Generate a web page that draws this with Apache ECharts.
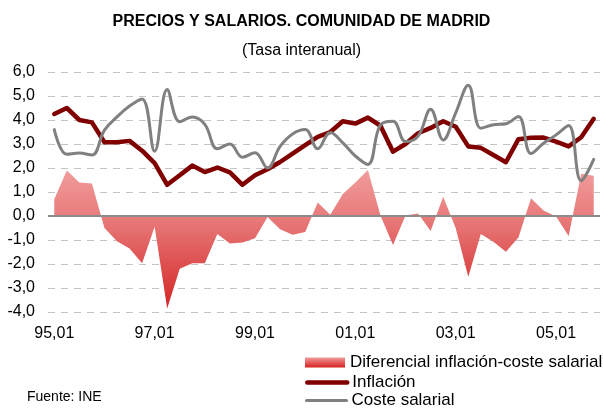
<!DOCTYPE html>
<html>
<head>
<meta charset="utf-8">
<script src="https://cdn.jsdelivr.net/npm/echarts@6/dist/echarts.min.js"></script>
<style>
html,body{margin:0;padding:0;background:#fff;}
#chart{width:603px;height:408px;}
</style>
</head>
<body>
<div id="chart"></div>
<script>
const categories = [
  "95,01","95,02","95,03","95,04","96,01","96,02","96,03","96,04",
  "97,01","97,02","97,03","97,04","98,01","98,02","98,03","98,04",
  "99,01","99,02","99,03","99,04","00,01","00,02","00,03","00,04",
  "01,01","01,02","01,03","01,04","02,01","02,02","02,03","02,04",
  "03,01","03,02","03,03","03,04","04,01","04,02","04,03","04,04",
  "05,01","05,02","05,03","05,04"
];
const diferencial = [
  0.7, 1.9, 1.4, 1.35, -0.5, -1.05, -1.35, -1.97,
  -0.45, -3.85, -2.2, -1.97, -1.97, -0.75, -1.15, -1.1,
  -0.93, -0.04, -0.55, -0.78, -0.67, 0.56, 0.05, 0.92,
  1.4, 1.92, 0.02, -1.21, 0.02, 0.1, -0.63, 0.8,
  -0.51, -2.53, -0.75, -1.07, -1.49, -0.9, 0.74, 0.23,
  -0.02, -0.83, 1.76, 1.68
];
const inflacion = [
  4.25, 4.5, 4.0, 3.9, 3.07, 3.07, 3.13, 2.72,
  2.2, 1.3, 1.7, 2.1, 1.83, 2.02, 1.82, 1.3,
  1.7, 1.95, 2.25, 2.6, 2.95, 3.3, 3.5, 3.95,
  3.85, 4.1, 3.76, 2.68, 3.0, 3.45, 3.67, 3.95,
  3.72, 2.9, 2.84, 2.54, 2.24, 3.2, 3.26, 3.27,
  3.1, 2.9, 3.28, 4.05
];
const coste = [
  3.6, 2.57, 2.62, 2.54, 3.58, 4.13, 4.58, 4.88,
  2.7, 5.27, 3.93, 4.12, 3.82, 2.8, 3.0, 2.45,
  2.64, 2.0, 2.9, 3.42, 3.6, 2.8, 3.48, 3.05,
  2.5, 2.15, 3.8, 3.95, 3.1, 3.33, 4.45, 3.17,
  4.3, 5.45, 3.66, 3.8, 3.84, 4.15, 2.6, 3.03,
  3.38, 3.77, 1.47, 2.36
];
const seriesNames = ["Diferencial inflación-coste salarial", "Inflación", "Coste salarial"];

const FONT = "'Liberation Sans', Arial, sans-serif";
const areaGradient = {
  type: 'linear', x: 0, y: 0, x2: 0, y2: 1,
  colorStops: [{offset: 0, color: '#f19c9c'}, {offset: 0.35, color: '#e87a7a'}, {offset: 1, color: '#d42626'}]
};
const legendGradient = {
  type: 'linear', x: 0, y: 0, x2: 0, y2: 1,
  colorStops: [{offset: 0, color: '#f09a9a'}, {offset: 1, color: '#d82020'}]
};
const legendBase = {
  orient: 'vertical', left: 305, padding: 0,
  itemWidth: 40, itemHeight: 10, itemGap: 0,
  textStyle: {fontFamily: FONT, fontSize: 17, color: '#000'}
};

const chart = echarts.init(document.getElementById('chart'), null, {renderer: 'canvas'});
chart.setOption({
  animation: false,
  backgroundColor: '#ffffff',
  textStyle: {fontFamily: FONT},
  title: [
    {text: 'PRECIOS Y SALARIOS. COMUNIDAD DE MADRID', left: 'center', top: 9,
     textStyle: {fontFamily: FONT, fontSize: 16, fontWeight: 'bold', color: '#000'}},
    {text: '(Tasa interanual)', left: 'center', top: 38,
     textStyle: {fontFamily: FONT, fontSize: 16, fontWeight: 'normal', color: '#000'}},
    {text: 'Fuente: INE', left: 27, top: 390, padding: 0,
     textStyle: {fontFamily: FONT, fontSize: 14, fontWeight: 'normal', color: '#000'}}
  ],
  grid: {left: 48, right: 3, top: 72, bottom: 96, containLabel: false},
  legend: [
    Object.assign({}, legendBase, {top: 354,
      data: [{name: seriesNames[0], icon: 'rect', itemStyle: {color: legendGradient}}]}),
    Object.assign({}, legendBase, {top: 374,
      data: [{name: seriesNames[1], itemStyle: {opacity: 0}, lineStyle: {width: 4.5, color: '#800000', cap: 'round'}}]}),
    Object.assign({}, legendBase, {top: 392,
      data: [{name: seriesNames[2], itemStyle: {opacity: 0}, lineStyle: {width: 3, color: '#808080', cap: 'round'}}]})
  ],
  xAxis: {
    type: 'category', data: categories, boundaryGap: true,
    axisLine: {show: false, onZero: false},
    axisTick: {show: false},
    splitLine: {show: false},
    axisLabel: {interval: 7, fontFamily: FONT, fontSize: 16, color: '#000', margin: 14}
  },
  yAxis: {
    type: 'value', min: -4, max: 6, interval: 1,
    axisLine: {show: false}, axisTick: {show: false},
    axisLabel: {fontFamily: FONT, fontSize: 16, color: '#000', margin: 13,
      formatter: v => v.toFixed(1).replace('.', ',')},
    splitLine: {lineStyle: {type: [7, 6], color: '#c4c4c4', width: 1}}
  },
  series: [
    {
      name: seriesNames[0], type: 'line', data: diferencial,
      symbol: 'none', lineStyle: {width: 0}, itemStyle: {color: '#e06060'},
      areaStyle: {color: areaGradient, opacity: 1},
      z: 1,
      markLine: {
        silent: true, symbol: 'none', label: {show: false},
        lineStyle: {type: 'solid', color: '#8c8c8c', width: 2},
        data: [{yAxis: 0}], z: 5
      }
    },
    {
      name: seriesNames[1], type: 'line', data: inflacion,
      symbol: 'none', itemStyle: {color: '#800000'},
      lineStyle: {width: 4.5, color: '#800000', join: 'round', cap: 'round'},
      z: 3
    },
    {
      name: seriesNames[2], type: 'line', data: coste,
      symbol: 'none', smooth: 0.4, itemStyle: {color: '#808080'},
      lineStyle: {width: 3, color: '#808080', join: 'round', cap: 'round'},
      z: 4
    }
  ]
});
</script>
</body>
</html>
